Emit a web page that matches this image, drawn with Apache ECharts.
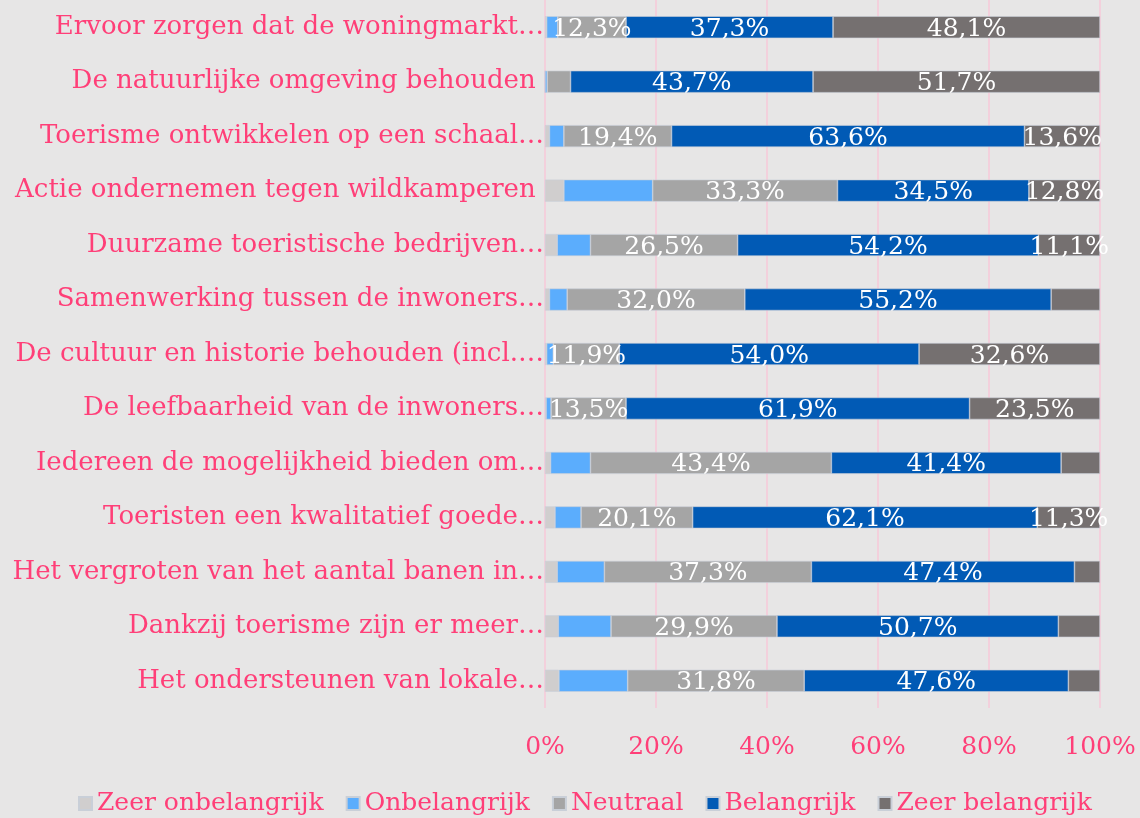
<!DOCTYPE html>
<html>
<head>
<meta charset="utf-8">
<script src="https://cdn.jsdelivr.net/npm/echarts@6/dist/echarts.min.js"></script>
<style>
  html, body { margin: 0; padding: 0; background: #e7e6e6; }
  #chart { width: 1140px; height: 818px; }
</style>
</head>
<body>
<div id="chart"></div>
<script>
var categories = [
  'Ervoor zorgen dat de woningmarkt…',
  'De natuurlijke omgeving behouden\u00a0',
  'Toerisme ontwikkelen op een schaal…',
  'Actie ondernemen tegen wildkamperen\u00a0',
  'Duurzame toeristische bedrijven…',
  'Samenwerking tussen de inwoners…',
  'De cultuur en historie behouden (incl.…',
  'De leefbaarheid van de inwoners…',
  'Iedereen de mogelijkheid bieden om…',
  'Toeristen een kwalitatief goede…',
  'Het vergroten van het aantal banen in…',
  'Dankzij toerisme zijn er meer…',
  'Het ondersteunen van lokale…'
];
var zeerOnbelangrijk = [0.3, 0.0, 0.8, 3.4, 2.2, 0.8, 0.3, 0.2, 1.0, 1.8, 2.2, 2.4, 2.5];
var onbelangrijk     = [2.0, 0.4, 2.6, 16.0, 6.0, 3.2, 1.2, 0.9, 7.2, 4.7, 8.5, 9.5, 12.4];
var neutraal         = [12.3, 4.2, 19.4, 33.3, 26.5, 32.0, 11.9, 13.5, 43.4, 20.1, 37.3, 29.9, 31.8];
var belangrijk       = [37.3, 43.7, 63.6, 34.5, 54.2, 55.2, 54.0, 61.9, 41.4, 62.1, 47.4, 50.7, 47.6];
var zeerBelangrijk   = [48.1, 51.7, 13.6, 12.8, 11.1, 8.8, 32.6, 23.5, 7.0, 11.3, 4.6, 7.5, 5.7];
var xTicks = [0, 20, 40, 60, 80, 100];

var font = 'DejaVu Serif';
var pink = '#ff3f78';

function lbl(show) {
  return {
    show: show,
    position: 'inside',
    offset: [0, 2],
    color: '#ffffff',
    fontFamily: font,
    fontSize: 25,
    formatter: function (p) {
      if (p.value < 10) return '';
      return p.value.toFixed(1).replace('.', ',') + '%';
    }
  };
}

function serie(name, data, color, showLabel) {
  return {
    name: name,
    type: 'bar',
    stack: 'totaal',
    data: data,
    barWidth: 22,
    itemStyle: { color: color, borderColor: '#c9cfd8', borderWidth: 0.6 },
    label: lbl(showLabel)
  };
}

var myChart = echarts.init(document.getElementById('chart'));
myChart.setOption({
  backgroundColor: '#e7e6e6',
  animation: false,
  grid: { left: 545, right: 40, top: -2, bottom: 110, containLabel: false },
  legend: {
    top: 786,
    left: 73,
    itemWidth: 13,
    itemHeight: 13,
    itemGap: 22,
    icon: 'rect',
    textStyle: { color: pink, fontFamily: font, fontSize: 25 },
    data: ['Zeer onbelangrijk', 'Onbelangrijk', 'Neutraal', 'Belangrijk', 'Zeer belangrijk']
  },
  xAxis: {
    type: 'value',
    min: 0,
    max: 100,
    interval: 20,
    axisLine: { show: false },
    axisTick: { show: false },
    splitLine: { show: true, lineStyle: { color: '#f7c9d9', width: 1.5 } },
    axisLabel: {
      color: pink,
      fontFamily: font,
      fontSize: 25,
      margin: 27,
      formatter: function (v) { return xTicks.indexOf(v) >= 0 ? v + '%' : ''; }
    }
  },
  yAxis: {
    type: 'category',
    inverse: true,
    data: categories,
    axisLine: { show: false },
    axisTick: { show: false },
    axisLabel: { color: pink, fontFamily: font, fontSize: 26, margin: 1 }
  },
  series: [
    serie('Zeer onbelangrijk', zeerOnbelangrijk, '#d0cece', false),
    serie('Onbelangrijk', onbelangrijk, '#5badfd', false),
    serie('Neutraal', neutraal, '#a5a5a5', true),
    serie('Belangrijk', belangrijk, '#015ab5', true),
    serie('Zeer belangrijk', zeerBelangrijk, '#757070', true)
  ]
});
</script>
</body>
</html>
